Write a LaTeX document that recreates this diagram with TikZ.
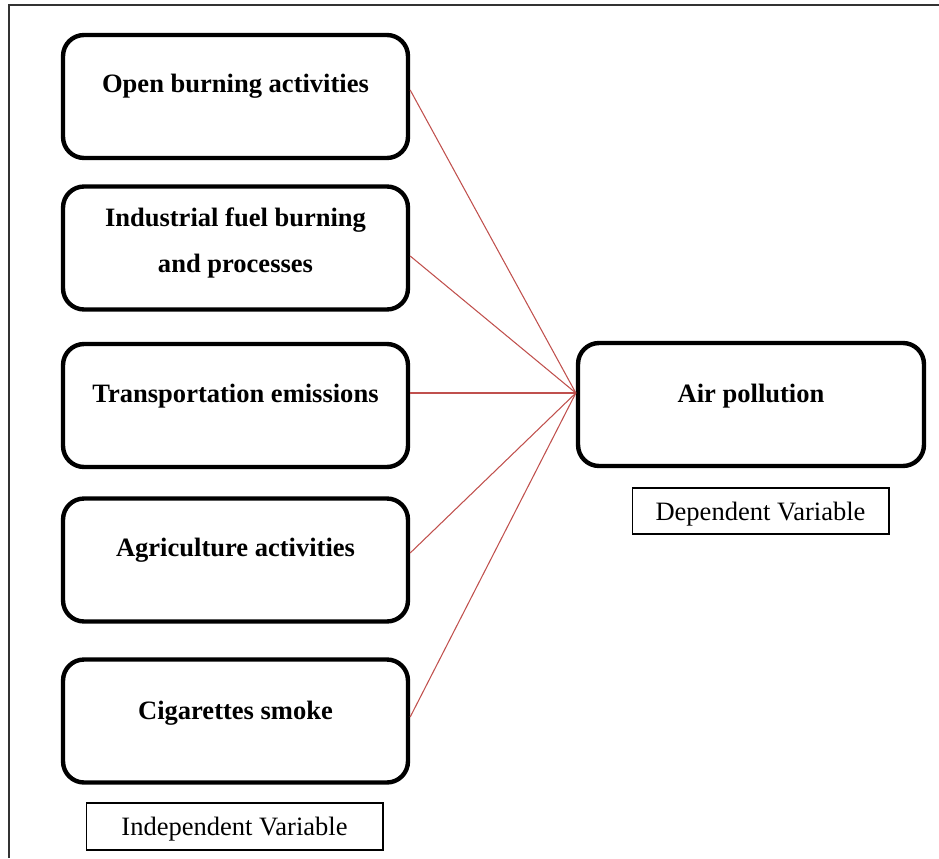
\documentclass[tikz,border=0pt]{standalone}
\usepackage{fontspec}
\setmainfont{Liberation Serif}
\usepackage{xcolor}
\usetikzlibrary{positioning}
\definecolor{linkred}{RGB}{192,80,77}

\begin{document}
\begin{tikzpicture}[x=0.02cm,y=-0.02cm,
	varbox/.style={draw,line width=2.5pt,rounded corners=0.42cm,minimum width=6.9cm,minimum height=2.46cm,inner sep=0pt},
	vartext/.style={font=\fontsize{15.1}{26.7}\selectfont\bfseries,align=center,inner sep=0pt},
	tagbox/.style={draw,line width=0.6pt,font=\fontsize{15.1}{18}\selectfont,inner sep=0pt,text depth=0pt},
	link/.style={draw=linkred,line width=0.6pt}]
		\useasboundingbox (0,0) rectangle (939,858);
		% Frame
		\draw[line width=0.6pt,black!80] (9,858) -- (9,5) -- (939,5);
		% Independent variables
		\node[varbox] (open) at (235.5,96.5) {};
		\node[vartext,anchor=base] (open-txt) at (235.5,93) {Open burning activities};
		\node[varbox] (industry) at (235.5,248) {};
		\node[vartext] (industry-txt) at (235.5,243) {Industrial fuel burning\\and processes};
		\node[varbox] (transport) at (235.5,405.5) {};
		\node[vartext,anchor=base] (transport-txt) at (235.5,402) {Transportation emissions};
		\node[varbox] (agri) at (235.5,560) {};
		\node[vartext,anchor=base] (agri-txt) at (235.5,556) {Agriculture activities};
		\node[varbox] (smoke) at (235.5,721) {};
		\node[vartext,anchor=base] (smoke-txt) at (235.5,719) {Cigarettes smoke};
		\node[tagbox,minimum width=5.94cm,minimum height=0.94cm] (indep) at (234.5,826.5) {Independent Variable};
		% Dependent variable
		\node[varbox,minimum width=6.92cm] (air) at (751,404.5) {};
		\node[vartext,anchor=base] (air-txt) at (751,402) {Air pollution};
		\node[tagbox,minimum width=5.14cm,minimum height=0.92cm] (dep) at (760.5,511) {Dependent Variable};
		% Links
		\draw[link] ([yshift=0.13cm]open.east) -- ([yshift=0.23cm]air.west);
		\draw[link] ([yshift=-0.16cm]industry.east) -- ([yshift=0.23cm]air.west);
		\draw[link] ([yshift=0.25cm]transport.east) -- ([yshift=0.23cm]air.west);
		\draw[link] ([yshift=0.14cm]agri.east) -- ([yshift=0.23cm]air.west);
		\draw[link] ([yshift=0.08cm]smoke.east) -- ([yshift=0.23cm]air.west);
\end{tikzpicture}
\end{document}
